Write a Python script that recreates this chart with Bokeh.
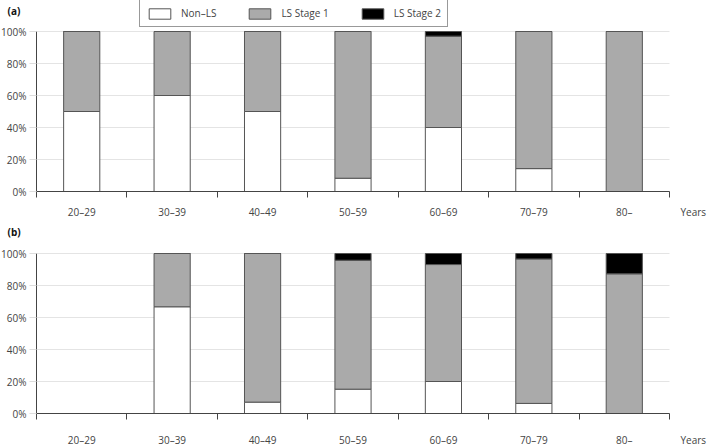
from bokeh.plotting import figure
from bokeh.layouts import column
from bokeh.models import (ColumnDataSource, FixedTicker, PrintfTickFormatter, Range1d,
                          Legend, LegendItem, Label, LinearAxis)
from bokeh.embed import file_html
from bokeh.resources import INLINE

age_groups = ["20–29", "30–39", "40–49", "50–59", "60–69", "70–79", "80–"]
series_names = ["Non–LS", "LS Stage 1", "LS Stage 2"]
series_colors = ["#ffffff", "#aaaaaa", "#000000"]

a_non_ls = [50, 60, 50, 8.3, 40, 14.3, 0]
a_ls1 = [50, 40, 50, 91.7, 57.1, 85.7, 100]
a_ls2 = [0, 0, 0, 0, 2.9, 0, 0]

b_non_ls = [0, 66.7, 7.1, 15.2, 20, 6.3, 0]
b_ls1 = [0, 33.3, 92.9, 80.6, 73.1, 90.3, 87.3]
b_ls2 = [0, 0, 0, 4.2, 6.9, 3.4, 12.7]

y_ticks = [0, 20, 40, 60, 80, 100]

FONT = "Open Sans"
TXT = "#444444"
AX = "#444444"
W = 709
LEFT_PX = 36      # canvas px left of the first category boundary
RIGHT_PX = 40     # canvas px right of the last category boundary


def make_panel(tag, non_ls, ls1, ls2, H, top_px, bot_px, lab_off, tag_top, legend=False):
    n = len(age_groups)
    xs = list(range(n))
    src = ColumnDataSource(dict(x=xs, non=non_ls, ls1=ls1, ls2=ls2))

    ux = (W - LEFT_PX - RIGHT_PX) / n
    x0 = -0.5 - LEFT_PX / ux
    x1 = x0 + W / ux
    uy = (H - top_px - bot_px) / 100.0
    y0 = -bot_px / uy
    y1 = 100 + top_px / uy

    p = figure(width=W, height=H, x_range=Range1d(x0, x1), y_range=Range1d(y0, y1),
               output_backend="svg", toolbar_location=None, x_axis_type=None, y_axis_type=None,
               min_border=0)
    p.outline_line_color = None
    p.background_fill_color = "white"
    p.grid.visible = False

    # horizontal gridlines spanning the category area only
    p.segment(x0=[-0.5] * len(y_ticks), x1=[n - 0.5] * len(y_ticks), y0=y_ticks, y1=y_ticks,
              line_color="#e4e4e4", line_width=1, level="underlay")

    rs = p.vbar_stack(["non", "ls1", "ls2"], x="x", width=0.4, source=src,
                      fill_color=series_colors, line_color="#555555", line_width=1)

    xaxis = LinearAxis(ticker=FixedTicker(ticks=xs, minor_ticks=[i - 0.5 for i in range(n + 1)]),
                       major_label_overrides={i: g for i, g in zip(xs, age_groups)},
                       fixed_location=0, bounds=(-0.5, n - 0.5))
    xaxis.axis_line_color = AX
    xaxis.axis_line_width = 1
    xaxis.major_tick_out = 0
    xaxis.major_tick_in = 0
    xaxis.minor_tick_out = 6
    xaxis.minor_tick_in = 0
    xaxis.minor_tick_line_color = AX
    xaxis.major_label_text_font = FONT
    xaxis.major_label_text_font_size = "10px"
    xaxis.major_label_text_color = TXT
    xaxis.major_label_standoff = lab_off - 13
    p.add_layout(xaxis, "below")

    yaxis = LinearAxis(ticker=FixedTicker(ticks=y_ticks), formatter=PrintfTickFormatter(format="%d%%"),
                       fixed_location=-0.5, bounds=(0, 100))
    yaxis.axis_line_color = AX
    yaxis.axis_line_width = 1
    yaxis.major_tick_out = 7
    yaxis.major_tick_in = 0
    yaxis.major_tick_line_color = "#dddddd"
    yaxis.minor_tick_line_color = None
    yaxis.major_label_text_font = FONT
    yaxis.major_label_text_font_size = "10px"
    yaxis.major_label_text_color = TXT
    yaxis.major_label_standoff = 3
    p.add_layout(yaxis, "left")

    p.add_layout(Label(x=n - 0.5, y=0, x_offset=11, y_offset=-lab_off, text="Years",
                       text_font=FONT, text_font_size="10px", text_color=TXT,
                       text_baseline="middle", text_align="left"))
    p.add_layout(Label(x=7, y=H - tag_top, x_units="screen", y_units="screen",
                       text=tag, text_font=FONT, text_font_size="10px",
                       text_font_style="bold", text_color="#111111", text_baseline="top"))

    if legend:
        items = [LegendItem(label=nm, renderers=[r]) for nm, r in zip(series_names, rs)]
        leg = Legend(items=items, orientation="horizontal", location=(139, H - 27),
                     glyph_width=27, glyph_height=13, label_standoff=8,
                     label_height=13, spacing=30, padding=6, margin=0,
                     label_text_font=FONT, label_text_font_size="10px", label_text_color=TXT,
                     border_line_color="#333333", border_line_width=1,
                     background_fill_color="white", background_fill_alpha=1)
        p.add_layout(leg, "center")
    return p


pa = make_panel("(a)", a_non_ls, a_ls1, a_ls2, 222, 31, 31, 20, 3, legend=True)
pb = make_panel("(b)", b_non_ls, b_ls1, b_ls2, 224, 31, 33, 26, 2)

layout = column(pa, pb, spacing=0)
open("out.html", "w").write(file_html(layout, INLINE))
